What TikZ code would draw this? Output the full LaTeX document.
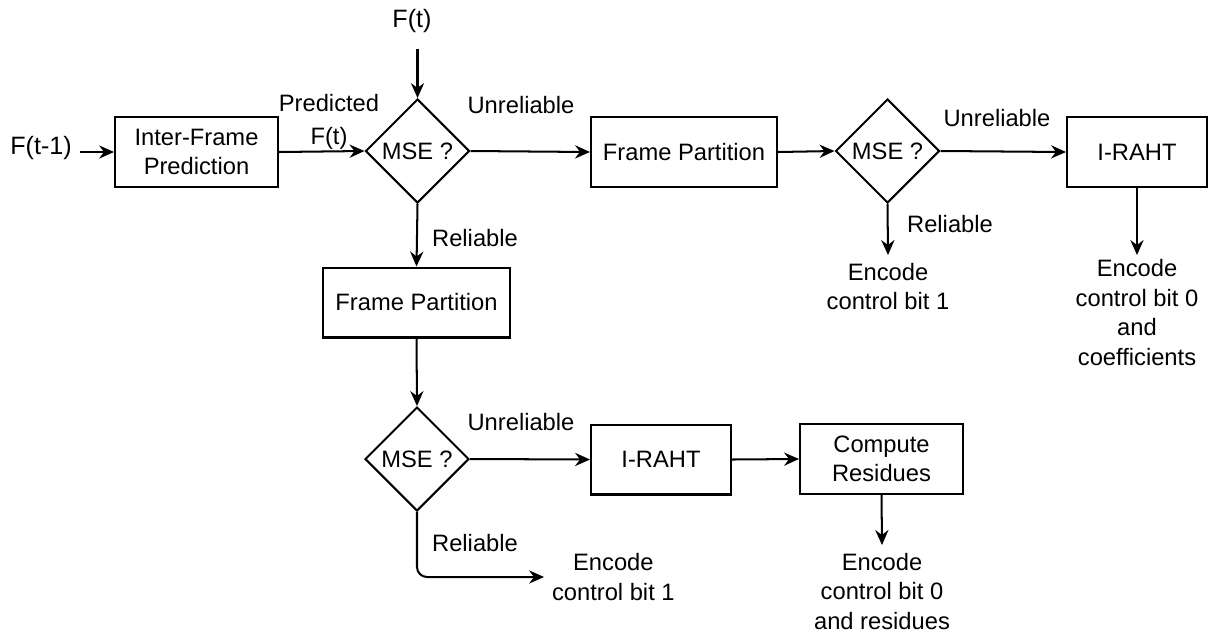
\documentclass[tikz,border=0pt]{standalone}
\usepackage{fontspec}
\setmainfont{Liberation Sans}
\usetikzlibrary{shapes.geometric,arrows.meta}
\begin{document}
\begin{tikzpicture}[x=0.02cm,y=-0.02cm,
  font=\fontsize{13.5}{16.8}\selectfont,
  line width=1.15pt,
  box/.style={draw, rectangle, align=center, inner sep=0pt, minimum height=1.4cm},
  dia/.style={draw, diamond, aspect=1, inner sep=0pt, minimum width=2.08cm, minimum height=2.08cm},
  txt/.style={align=center, inner sep=4pt},
  lbl/.style={inner sep=0pt, align=center},
  arr/.style={-{Stealth[length=8.5pt,width=7.5pt,inset=2.8pt]}}]
\useasboundingbox (0,0) rectangle (1222,633);

% boxes
\node[box, minimum width=3.26cm] (ifp) at (196.5,152) {Inter-Frame\\Prediction};
\node[box, minimum width=3.72cm] (fp1) at (684,152) {Frame Partition};
\node[box, minimum width=2.8cm] (ir1) at (1137,152) {I-RAHT};
\node[box, minimum width=3.74cm] (fp2) at (416.5,302.5) {Frame Partition};
\node[box, minimum width=2.8cm] (ir2) at (661,459.5) {I-RAHT};
\node[box, minimum width=3.26cm] (cr) at (881.5,459) {Compute\\Residues};

% diamonds
\node[dia] (d1) at (417.5,151) {MSE ?};
\node[dia] (d2) at (887.5,151) {MSE ?};
\node[dia] (d3) at (417,459) {MSE ?};

% inputs
\node[txt, font=\fontsize{14.3}{17}\selectfont] (ftm1) at (41,148) {F(t-1)};
\node[txt, font=\fontsize{14.3}{17}\selectfont] (ft) at (412,21) {F(t)};

% outputs
\node[txt, anchor=north] (e1) at (888,255) {Encode\\control bit 1};
\node[txt, anchor=north, inner ysep=2pt] (e2) at (1137,255) {Encode\\control bit 0\\and\\coefficients};
\node[txt, anchor=north] (e3) at (882,545) {Encode\\control bit 0\\and residues};
\node[txt, anchor=west] (e4) at (544,577) {Encode\\control bit 1};

% labels
\node[lbl] (pred) at (329,122) {Predicted\\[2pt]F(t)};
\node[lbl] (u1) at (521,105) {Unreliable};
\node[lbl] (r1) at (475,238) {Reliable};
\node[lbl] (u2) at (997,118) {Unreliable};
\node[lbl] (r2) at (950,224) {Reliable};
\node[lbl] (u3) at (521,422) {Unreliable};
\node[lbl] (r3) at (475,543) {Reliable};

% connectors
\draw[arr] (ftm1.east |- ifp.west) -- (ifp.west);
\draw[arr, shorten <=4.5pt] (d1.north |- ft.south) -- (d1.north);
\draw[arr] (ifp.east) -- (d1.west);
\draw[arr] (d1.east) -- (fp1.west);
\draw[arr] (fp1.east) -- (d2.west);
\draw[arr] (d2.east) -- (ir1.west);
\draw[arr] (d2.south) -- (e1.north);
\draw[arr] (ir1.south) -- (e2.north);
\draw[arr] (d1.south) -- (fp2.north);
\draw[arr] (fp2.south) -- (d3.north);
\draw[arr] (d3.east) -- (ir2.west);
\draw[arr] (ir2.east) -- (cr.west);
\draw[arr] (cr.south) -- (e3.north);
\draw[arr, rounded corners=0.2cm] (d3.south) |- (e4.west);
\end{tikzpicture}
\end{document}
